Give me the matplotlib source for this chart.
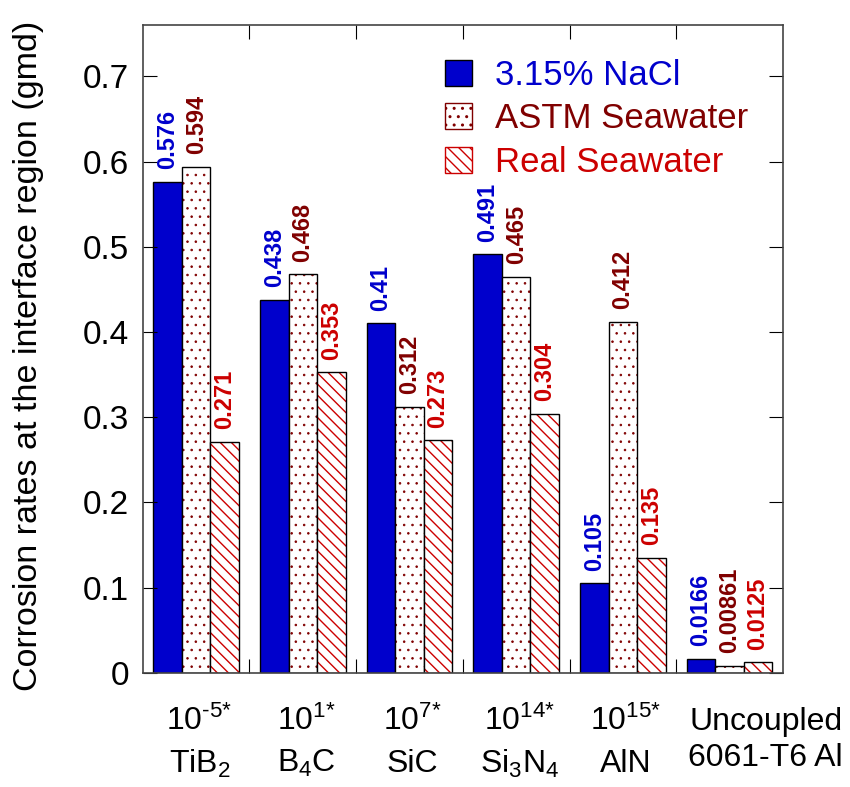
import numpy as np
import matplotlib
import matplotlib.pyplot as plt
import matplotlib.patches as mpatches
import matplotlib.transforms as mtransforms

plt.rcParams['font.family'] = ['Liberation Sans', 'DejaVu Sans']
plt.rcParams['mathtext.fontset'] = 'custom'
plt.rcParams['mathtext.rm'] = 'Liberation Sans'
plt.rcParams['mathtext.it'] = 'Liberation Sans'
plt.rcParams['mathtext.bf'] = 'Liberation Sans:bold'
plt.rcParams['hatch.linewidth'] = 1.0

# data
exponents = ['-5*', '1*', '7*', '14*', '15*', None]
materials = [r'TiB$_2$', r'B$_4$C', 'SiC', r'Si$_3$N$_4$', 'AlN', 'Uncoupled\n6061-T6 Al']
series = ['3.15% NaCl', 'ASTM Seawater', 'Real Seawater']
nacl = [0.576, 0.438, 0.41, 0.491, 0.105, 0.0166]
astm = [0.594, 0.468, 0.312, 0.465, 0.412, 0.00861]
real = [0.271, 0.353, 0.273, 0.304, 0.135, 0.0125]
labels = [['0.576', '0.438', '0.41', '0.491', '0.105', '0.0166'],
          ['0.594', '0.468', '0.312', '0.465', '0.412', '0.00861'],
          ['0.271', '0.353', '0.273', '0.304', '0.135', '0.0125']]

blue = '#0000cc'
dred = '#800000'
red = '#cc0000'
txt_colors = [blue, dred, red]

fig = plt.figure(figsize=(8.5, 7.87), dpi=100)
ax = fig.add_axes([0.168, 0.145, 0.753, 0.823])

x = np.arange(len(materials))
w = 0.267
vals = [nacl, astm, real]

for i, v in enumerate(vals):
    xs = x + (i - 1) * w
    if i == 0:
        ax.bar(xs, v, w, color=blue, edgecolor='black', linewidth=1)
    elif i == 1:
        with plt.rc_context({'hatch.linewidth': 0.6}):
            ax.bar(xs, v, w, color='white', edgecolor=dred, hatch='..', linewidth=0)
        ax.bar(xs, v, w, color='none', edgecolor='black', linewidth=1)
    else:
        ax.bar(xs, v, w, color='white', edgecolor=red, hatch='\\\\\\', linewidth=0)
        ax.bar(xs, v, w, color='none', edgecolor='black', linewidth=1)
    for xx, yy, lab in zip(xs, v, labels[i]):
        ax.annotate(lab, (xx, yy), xytext=(0, 9), textcoords='offset points',
                    rotation=90, ha='center', va='bottom', fontsize=17,
                    fontweight='bold', color=txt_colors[i])

ax.set_xlim(-0.5, 5.5)
ax.set_ylim(0, 0.76)
ax.set_yticks(np.arange(0, 0.71, 0.1))
ax.set_yticklabels(['0'] + ['%.1f' % t for t in np.arange(0.1, 0.71, 0.1)])
ax.set_xticks(np.arange(0.5, 5.0, 1.0))
ax.set_xticklabels([])
ax.tick_params(axis='y', direction='in', length=10, right=True, labelsize=24, pad=10)
ax.tick_params(axis='x', direction='in', length=10, top=True)
for s in ax.spines.values():
    s.set_color('#444444')
    s.set_linewidth(1.2)

ax.set_ylabel('Corrosion rates at the interface region (gmd)', fontsize=24.5)
ax.yaxis.set_label_coords(-0.155, 0.489)

trans = mtransforms.blended_transform_factory(ax.transData, ax.transAxes)
for i in range(len(materials)):
    if exponents[i] is not None:
        ax.text(i + 0.03, -0.075, r'$10^{\text{%s}}$' % exponents[i], transform=trans,
                ha='center', va='center', fontsize=23)
        ax.text(i + 0.03, -0.14, materials[i], transform=trans, ha='center',
                va='center', fontsize=23)
    else:
        ax.text(i + 0.34, -0.104, materials[i], transform=trans, ha='center',
                va='center', fontsize=23, linespacing=1.25)

handles = [mpatches.Patch(facecolor=blue, edgecolor='black'),
           mpatches.Patch(facecolor='white', edgecolor=dred, hatch='..'),
           mpatches.Patch(facecolor='white', edgecolor=red, hatch='\\\\\\')]
leg = ax.legend(handles, series, loc='upper left', bbox_to_anchor=(0.439, 0.98),
                frameon=False, fontsize=25, handlelength=0.78, handleheight=0.78,
                handletextpad=0.66, labelspacing=0.3, borderaxespad=0.2)
for t, c in zip(leg.get_texts(), txt_colors):
    t.set_color(c)

fig.savefig('out.png', dpi=100)
